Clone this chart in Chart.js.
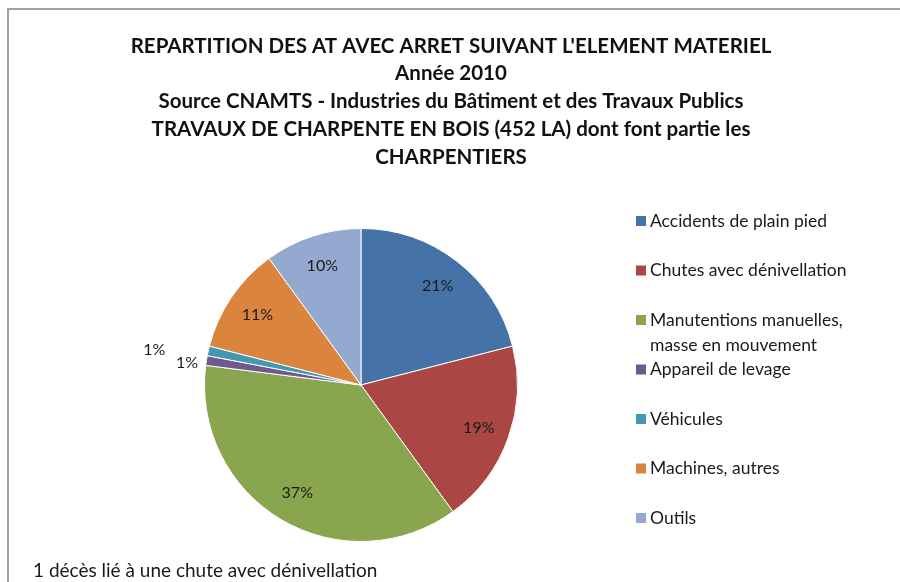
<!DOCTYPE html>
<html>
<head>
<meta charset="utf-8">
<script src="https://cdn.jsdelivr.net/npm/chart.js@4/dist/chart.umd.min.js"></script>
<style>
html,body{margin:0;padding:0;background:#fff;}
#wrap{width:900px;height:582px;position:relative;}
</style>
</head>
<body>
<div id="wrap"><canvas id="c" width="900" height="582"></canvas></div>
<script>
const titleLines = [
  "REPARTITION DES AT AVEC ARRET SUIVANT L'ELEMENT MATERIEL",
  "Année 2010",
  "Source CNAMTS - Industries du Bâtiment et des Travaux Publics",
  "TRAVAUX DE CHARPENTE EN BOIS (452 LA) dont font partie les",
  "CHARPENTIERS"
];
const categories = [
  "Accidents de plain pied",
  "Chutes avec dénivellation",
  "Manutentions manuelles, masse en mouvement",
  "Appareil de levage",
  "Véhicules",
  "Machines, autres",
  "Outils"
];
const percentages = [21, 19, 37, 1, 1, 11, 10];
const sliceColors = ["#4572A7", "#AA4643", "#89A54E", "#71588F", "#4198AF", "#DB843D", "#93A9CF"];
const footnote = "1 décès lié à une chute avec dénivellation";

const FONT = "Lato, 'Open Sans', sans-serif";

function wrapText(ctx, text, maxW) {
  const words = text.split(' ');
  const lines = [];
  let cur = '';
  for (const w of words) {
    const t = cur ? cur + ' ' + w : w;
    if (ctx.measureText(t).width > maxW && cur) { lines.push(cur); cur = w; }
    else cur = t;
  }
  if (cur) lines.push(cur);
  return lines;
}

const decorPlugin = {
  id: 'decor',
  afterDraw(chart) {
    const ctx = chart.ctx;
    ctx.save();
    // frame
    ctx.strokeStyle = '#a0a0a0';
    ctx.lineWidth = 2;
    ctx.beginPath();
    ctx.moveTo(8, 582);
    ctx.lineTo(8, 9);
    ctx.lineTo(900, 9);
    ctx.stroke();

    // title
    ctx.fillStyle = '#111';
    ctx.textAlign = 'center';
    ctx.textBaseline = 'middle';
    ctx.font = "bold 20.5px " + FONT;
    titleLines.forEach((t, i) => ctx.fillText(t, 451, 46 + i * 27.8));

    // slice labels
    const meta = chart.getDatasetMeta(0);
    ctx.font = "16px " + FONT;
    ctx.fillStyle = '#1a1a1a';
    let smallIdx = 0;
    meta.data.forEach((arc, i) => {
      const p = arc.getProps(['x','y','startAngle','endAngle','outerRadius'], true);
      const mid = (p.startAngle + p.endAngle) / 2;
      const v = chart.data.datasets[0].data[i];
      let r, ang = mid;
      if (v < 3) {
        if (smallIdx === 0) { r = p.outerRadius * 1.12; ang = mid - 0.03; }
        else { r = p.outerRadius * 1.34; ang = mid - 0.05; }
        smallIdx++;
      } else {
        r = p.outerRadius * 0.8;
      }
      ctx.fillText(v + '%', p.x + Math.cos(ang) * r, p.y + Math.sin(ang) * r);
    });

    // legend
    ctx.textAlign = 'left';
    ctx.font = "17.5px " + FONT;
    chart.data.labels.forEach((lab, i) => {
      const y = 221 + i * 49.5;
      ctx.fillStyle = sliceColors[i];
      ctx.fillRect(636, y - 5, 10, 10);
      ctx.fillStyle = '#1a1a1a';
      const lines = wrapText(ctx, lab, 215);
      lines.forEach((ln, j) => ctx.fillText(ln, 650, y + j * 25));
    });

    // footnote
    ctx.font = "19px " + FONT;
    ctx.fillText(footnote, 33, 571);
    ctx.restore();
  }
};

new Chart(document.getElementById('c'), {
  type: 'pie',
  data: {
    labels: categories,
    datasets: [{
      data: percentages,
      backgroundColor: sliceColors,
      borderColor: '#ffffff',
      borderWidth: 1
    }]
  },
  options: {
    responsive: false,
    animation: false,
    layout: { padding: { top: 228, bottom: 40, left: 204, right: 382 } },
    plugins: {
      legend: { display: false },
      title: { display: false },
      tooltip: { enabled: false }
    }
  },
  plugins: [decorPlugin]
});
</script>
</body>
</html>
